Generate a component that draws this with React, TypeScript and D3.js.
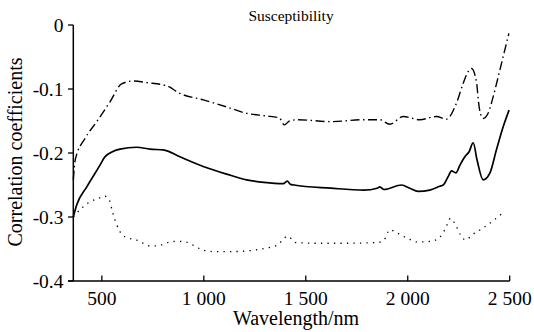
import React from "react";
import * as d3 from "d3";

const xTicks = [500, 1000, 1500, 2000, 2500];
const xTickLabels = ["500", "1 000", "1 500", "2 000", "2 500"];
const yTicks = [0, -0.1, -0.2, -0.3, -0.4];
const yTickLabels = ["0", "-0.1", "-0.2", "-0.3", "-0.4"];

const waveA = [360, 370, 418, 475, 540, 597, 654, 720, 818, 883, 997, 1112, 1210, 1303, 1370, 1395, 1420, 1458, 1622, 1785, 1863, 1912, 1978, 2059, 2141, 2190, 2239, 2272, 2296, 2313, 2338, 2346, 2354, 2370, 2394, 2419, 2452, 2496];
const corrA = [-0.242, -0.21, -0.177, -0.151, -0.12, -0.092, -0.0875, -0.09, -0.095, -0.107, -0.117, -0.128, -0.138, -0.142, -0.145, -0.156, -0.15, -0.148, -0.151, -0.148, -0.148, -0.155, -0.143, -0.148, -0.143, -0.147, -0.122, -0.091, -0.073, -0.068, -0.091, -0.117, -0.135, -0.146, -0.138, -0.112, -0.07, -0.013];

const waveB = [360, 377, 426, 491, 515, 589, 671, 736, 801, 883, 997, 1112, 1210, 1295, 1390, 1409, 1425, 1442, 1622, 1785, 1850, 1863, 1883, 1970, 2010, 2051, 2108, 2157, 2174, 2198, 2215, 2236, 2256, 2280, 2301, 2321, 2340, 2370, 2402, 2435, 2468, 2497];
const corrB = [-0.3, -0.281, -0.253, -0.219, -0.206, -0.194, -0.191, -0.194, -0.195, -0.206, -0.221, -0.233, -0.242, -0.246, -0.248, -0.244, -0.249, -0.25, -0.255, -0.258, -0.255, -0.253, -0.257, -0.25, -0.255, -0.26, -0.258, -0.252, -0.25, -0.237, -0.228, -0.231, -0.219, -0.206, -0.198, -0.184, -0.211, -0.242, -0.232, -0.195, -0.159, -0.133];

const waveC = [360, 401, 450, 483, 510, 536, 553, 573, 589, 613, 671, 736, 769, 834, 867, 924, 957, 1000, 1046, 1144, 1242, 1316, 1360, 1412, 1450, 1550, 1700, 1850, 1883, 1912, 1948, 1997, 2046, 2112, 2153, 2185, 2210, 2234, 2259, 2284, 2316, 2365, 2422, 2468];
const corrC = [-0.3, -0.286, -0.275, -0.271, -0.267, -0.273, -0.293, -0.312, -0.323, -0.331, -0.336, -0.345, -0.345, -0.339, -0.338, -0.34, -0.346, -0.352, -0.354, -0.354, -0.352, -0.348, -0.344, -0.33, -0.34, -0.341, -0.341, -0.34, -0.336, -0.32, -0.325, -0.333, -0.339, -0.338, -0.333, -0.318, -0.302, -0.312, -0.328, -0.336, -0.328, -0.318, -0.305, -0.293];

const W = 534;
const H = 332;
const FONT = "'Liberation Serif', 'Times New Roman', serif";

export default function App() {
  const x = d3.scaleLinear().domain([360, 2500]).range([73.3, 509.7]);
  const y = d3.scaleLinear().domain([0, -0.4]).range([25, 281]);
  const line = d3
    .line<[number, number]>()
    .x((d) => x(d[0]))
    .y((d) => y(d[1]))
    .curve(d3.curveMonotoneX);
  const zip = (a: number[], b: number[]) => a.map((v, i) => [v, b[i]] as [number, number]);

  return (
    <svg
      width={W}
      height={H}
      style={{ position: "absolute", left: 0, top: 0, background: "#fff" }}
      fontFamily={FONT}
    >
      <rect width={W} height={H} fill="#fff" />
      <text x={291} y={21} fontSize={15.5} textAnchor="middle" fill="#000">
        Susceptibility
      </text>
      {/* axes */}
      <line x1={73.3} x2={73.3} y1={25} y2={281} stroke="#000" strokeWidth={1.5} />
      <line x1={68} x2={509.7} y1={281} y2={281} stroke="#000" strokeWidth={1.5} />
      {yTicks.map((t, i) => (
        <g key={"y" + i}>
          <line x1={68} x2={73.3} y1={y(t)} y2={y(t)} stroke="#000" strokeWidth={1.3} />
          <text x={63.5} y={y(t) + 6.5} fontSize={19.5} textAnchor="end" fill="#000">
            {yTickLabels[i]}
          </text>
        </g>
      ))}
      {xTicks.map((t, i) => (
        <g key={"x" + i}>
          <line x1={x(t)} x2={x(t)} y1={281} y2={275.5} stroke="#000" strokeWidth={1.3} />
          <text x={x(t)} y={305} fontSize={19.5} textAnchor="middle" fill="#000">
            {xTickLabels[i]}
          </text>
        </g>
      ))}
      <text x={296} y={325} fontSize={20} textAnchor="middle" fill="#000">
        Wavelength/nm
      </text>
      <text
        transform={`translate(22,152) rotate(-90)`}
        fontSize={20}
        textAnchor="middle"
        fill="#000"
      >
        Correlation coefficients
      </text>
      {/* series */}
      <path d={line(zip(waveA, corrA)) || ""} fill="none" stroke="#000" strokeWidth={1.4} strokeDasharray="9,3.5,1.5,3.5" />
      <path d={line(zip(waveB, corrB)) || ""} fill="none" stroke="#000" strokeWidth={1.7} />
      <path d={line(zip(waveC, corrC)) || ""} fill="none" stroke="#000" strokeWidth={1.3} strokeDasharray="1.3,5.2" />
    </svg>
  );
}
